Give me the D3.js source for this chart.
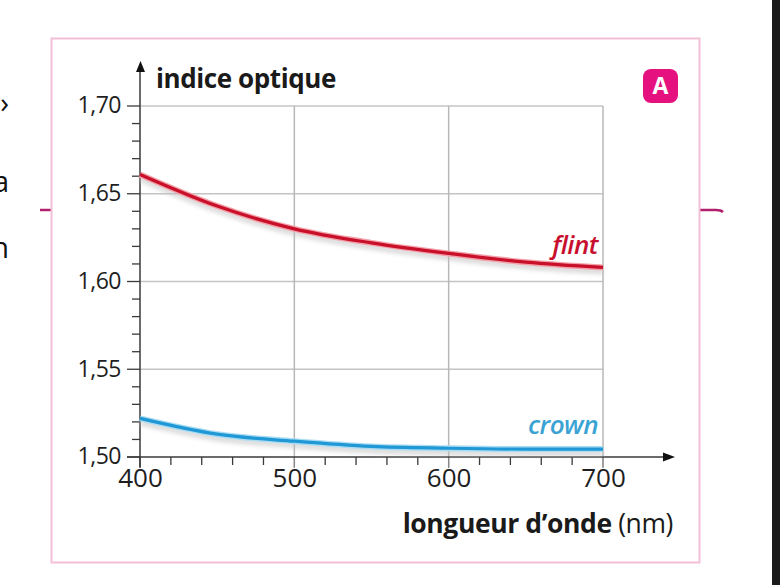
<!DOCTYPE html>
<html><head><meta charset="utf-8">
<script src="https://cdn.jsdelivr.net/npm/d3@7"></script>
<style>
html,body{margin:0;padding:0;background:#fff;}
svg{display:block;font-family:"Open Sans",sans-serif;}
</style></head>
<body>
<svg id="c" width="780" height="585"></svg>
<script>
// ---- data ----
const wavelengths = [400, 450, 500, 550, 600, 650, 700];
const flintValues = [1.661, 1.643, 1.630, 1.622, 1.616, 1.611, 1.608];
const crownValues = [1.522, 1.513, 1.509, 1.506, 1.505, 1.5045, 1.5045];
const xTickValues = [400, 500, 600, 700];
const yTickValues = [1.50, 1.55, 1.60, 1.65, 1.70];
const yTickLabels = ["1,50", "1,55", "1,60", "1,65", "1,70"];
const seriesNames = ["flint", "crown"];
const yTitle = "indice optique";
const xTitleBold = "longueur d’onde";
const xTitleUnit = " (nm)";
const badge = "A";

const svg = d3.select("#c");
const x = d3.scaleLinear().domain([400, 700]).range([140, 603]);
const y = d3.scaleLinear().domain([1.50, 1.70]).range([457, 106]);

// page decorations outside chart
svg.append("rect").attr("x", 772).attr("y", 0).attr("width", 8).attr("height", 585).attr("fill", "#1b1b1b");
[["›", 113], ["a", 192], ["n", 258]].forEach(([t, yy]) => {
  svg.append("text").attr("x", 9).attr("y", yy).attr("text-anchor", "end")
    .attr("font-size", 29).attr("font-weight", 500).attr("fill", "#111").text(t);
});
svg.append("line").attr("x1", 40).attr("x2", 52).attr("y1", 210).attr("y2", 210)
  .attr("stroke", "#b0206e").attr("stroke-width", 2.5);
svg.append("path").attr("d", "M700,210 L716,210 Q721,210 723,212")
  .attr("fill", "none").attr("stroke", "#b0206e").attr("stroke-width", 2.5);

// frame
svg.append("rect").attr("x", 51.5).attr("y", 38.5).attr("width", 648).attr("height", 524)
  .attr("fill", "none").attr("stroke", "#f3bfd6").attr("stroke-width", 2);

// badge
svg.append("rect").attr("x", 643).attr("y", 69).attr("width", 35).attr("height", 34).attr("rx", 8)
  .attr("fill", "#e4117f");
svg.append("text").attr("x", 660.5).attr("y", 94).attr("text-anchor", "middle")
  .attr("font-size", 23).attr("font-weight", 700).attr("fill", "#fff").text(badge);

// grid
const g = svg.append("g");
yTickValues.filter(v => v > 1.5).forEach(v => {
  g.append("line").attr("x1", x(400)).attr("x2", x(700)).attr("y1", y(v)).attr("y2", y(v))
    .attr("stroke", "#c4c4c4").attr("stroke-width", 1.5);
});
xTickValues.filter(v => v > 400).forEach(v => {
  g.append("line").attr("x1", x(v)).attr("x2", x(v)).attr("y1", y(1.70)).attr("y2", y(1.50) + 10)
    .attr("stroke", "#b8b8b8").attr("stroke-width", 1.5);
});

// minor ticks
const axisColor = "#3a3a3a";
d3.range(400, 701, 20).forEach(v => {
  const major = v % 100 === 0;
  g.append("line").attr("x1", x(v)).attr("x2", x(v)).attr("y1", y(1.50)).attr("y2", y(1.50) + (major ? 11 : 8))
    .attr("stroke", major && v > 400 ? "#888" : axisColor).attr("stroke-width", 1.3);
});
d3.range(0, 21).forEach(i => {
  const v = 1.50 + i * 0.01;
  const major = i % 5 === 0;
  g.append("line").attr("x1", x(400) - (major ? 13 : 8)).attr("x2", x(400)).attr("y1", y(v)).attr("y2", y(v))
    .attr("stroke", axisColor).attr("stroke-width", 1.3);
});

// axes
const xAxis = d3.axisBottom(x).tickValues(xTickValues).tickSize(0).tickPadding(0).tickFormat(d3.format("d"));
const xa = svg.append("g").attr("transform", `translate(0,${y(1.50)})`).call(xAxis);
xa.select(".domain").remove();
xa.selectAll("text").attr("font-size", 26).attr("font-weight", 500).attr("fill", "#1e1e1e").attr("dy", 0).attr("y", 30)
  .attr("font-family", "'Open Sans',sans-serif");

const yAxis = d3.axisLeft(y).tickValues(yTickValues).tickSize(0).tickPadding(0)
  .tickFormat((d, i) => yTickLabels[i]);
const ya = svg.append("g").attr("transform", `translate(${x(400)},0)`).call(yAxis);
ya.select(".domain").remove();
ya.selectAll("text").attr("font-size", 23).attr("font-weight", 500).attr("fill", "#1e1e1e").attr("x", -19).attr("dy", "0.3em")
  .attr("letter-spacing", -0.5).attr("font-family", "'Open Sans',sans-serif");

// axis lines with arrows
svg.append("line").attr("x1", x(400)).attr("x2", x(400)).attr("y1", y(1.50) + 10).attr("y2", 68)
  .attr("stroke", axisColor).attr("stroke-width", 1.5);
svg.append("path").attr("d", "M140.5,61 L136,72 L145,72 Z").attr("fill", "#111");
svg.append("line").attr("x1", x(400) - 13).attr("x2", 667).attr("y1", y(1.50)).attr("y2", y(1.50))
  .attr("stroke", axisColor).attr("stroke-width", 1.5);
svg.append("path").attr("d", `M675,${y(1.50)} L663,${y(1.50) - 4.5} L663,${y(1.50) + 4.5} Z`).attr("fill", "#111");

// titles
svg.append("text").attr("x", 156).attr("y", 88).attr("font-size", 26).attr("font-weight", 700)
  .attr("letter-spacing", -0.4).attr("fill", "#1a1a1a").text(yTitle);
const xt = svg.append("text").attr("x", 673).attr("y", 533).attr("text-anchor", "end").attr("font-size", 26.5)
  .attr("letter-spacing", -0.4).attr("fill", "#1a1a1a");
xt.append("tspan").attr("font-weight", 700).text(xTitleBold);
xt.append("tspan").attr("font-weight", 400).text(xTitleUnit);

// curves
const defs = svg.append("defs");
defs.append("filter").attr("id", "blur").attr("x", "-10%").attr("y", "-50%").attr("width", "120%").attr("height", "200%")
  .append("feGaussianBlur").attr("stdDeviation", 2);
const line = d3.line().x(d => x(d[0])).y(d => y(d[1])).curve(d3.curveMonotoneX);
const series = [
  { name: seriesNames[0], vals: flintValues, color: "#c8102a", halo: "#f3a0a8", label: "#c8102e", lx: 598, ly: 254 },
  { name: seriesNames[1], vals: crownValues, color: "#1f98d5", halo: "#a9dcf3", label: "#3ba3d3", lx: 598, ly: 434 }
];
series.forEach(s => {
  const data = wavelengths.map((w, i) => [w, s.vals[i]]);
  svg.append("path").attr("d", line(data)).attr("transform", "translate(0,4)")
    .attr("fill", "none").attr("stroke", "#bdbdbd").attr("stroke-width", 6).attr("opacity", 0.55).attr("filter", "url(#blur)");
  svg.append("path").attr("d", line(data)).attr("fill", "none").attr("stroke", s.halo).attr("stroke-width", 6);
  svg.append("path").attr("d", line(data)).attr("fill", "none").attr("stroke", s.color).attr("stroke-width", 3.2);
  svg.append("text").attr("x", s.lx).attr("y", s.ly).attr("text-anchor", "end").attr("font-size", 26)
    .attr("font-style", "italic").attr("font-weight", 600).attr("letter-spacing", -0.5).attr("fill", s.label).text(s.name);
});
</script>
</body></html>
